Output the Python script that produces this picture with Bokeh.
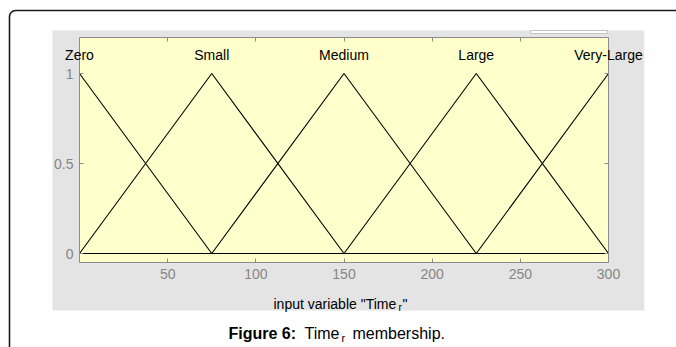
from bokeh.plotting import figure
from bokeh.models import Label, BoxAnnotation, LinearAxis, FixedTicker, Range1d
from bokeh.embed import file_html
from bokeh.resources import INLINE

# ---------------- data ----------------
mf_names = ["Zero", "Small", "Medium", "Large", "Very-Large"]
mf_a = [-75, 0, 75, 150, 225]      # trimf left feet
mf_b = [0, 75, 150, 225, 300]      # trimf peaks
mf_c = [75, 150, 225, 300, 375]    # trimf right feet
x_lo, x_hi = 0, 300
y_lo, y_hi = -0.05, 1.2
x_ticks = [50, 100, 150, 200, 250, 300]
y_ticks = [0, 0.5, 1]
x_label_main = 'input variable "Time'
x_label_sub = "r"
x_label_end = '"'
cap_bold = "Figure 6:"
cap_main = "Time"
cap_sub = "r"
cap_end = "membership."

# ---------------- geometry ----------------
W, H = 676, 347
FL, FR, FT, FB = 79, 608, 37, 262   # axes box edges in pixels


def px2x(sx):
    return x_lo + (sx - FL) * (x_hi - x_lo) / (FR - FL)


def px2y(sy):
    return y_lo + (FB - sy) * (y_hi - y_lo) / (FB - FT)


def trimf(x, a, b, c):
    if x <= a or x >= c:
        return 0.0
    if x <= b:
        return 1.0 if b == a else (x - a) / (b - a)
    return (c - x) / (c - b)


FONT = "Liberation Sans"
GRAY_TXT = "#868686"
AX_GRAY = "#8c8c8c"
PANEL = "#e4e4e4"
YELLOW = "#ffffcc"

p = figure(width=W, height=H, title=None,
           x_range=Range1d(px2x(0), px2x(W)), y_range=Range1d(px2y(H), px2y(0)),
           output_backend="svg", toolbar_location=None, min_border=0,
           x_axis_location=None, y_axis_location=None)
p.xgrid.visible = False
p.ygrid.visible = False
p.background_fill_color = "white"
p.border_fill_color = "white"
p.outline_line_color = None


def make_axis(ticks, loc, bounds, labels=True):
    ax = LinearAxis(ticker=FixedTicker(ticks=ticks), fixed_location=loc, bounds=bounds)
    ax.major_tick_in = 4
    ax.major_tick_out = 0
    ax.minor_tick_line_color = None
    ax.axis_line_color = AX_GRAY
    ax.major_tick_line_color = AX_GRAY
    ax.major_label_text_font = FONT
    ax.major_label_text_font_size = "14px"
    ax.major_label_text_color = GRAY_TXT
    ax.major_label_standoff = 6
    if not labels:
        ax.major_label_overrides = {t: "" for t in ticks}
    return ax


# ---------------- background panels ----------------
p.add_layout(BoxAnnotation(left=px2x(9), right=px2x(W + 40), top=px2y(10), bottom=px2y(H + 40),
                           fill_color=None, line_color="#1a1a1a", line_alpha=1,
                           line_width=1.6, border_radius=6, level="underlay"))
p.add_layout(BoxAnnotation(left=px2x(52), right=px2x(644), top=px2y(30), bottom=px2y(310),
                           fill_color=PANEL, fill_alpha=1, line_color=None,
                           level="underlay"))
p.add_layout(BoxAnnotation(left=x_lo, right=x_hi, top=y_hi, bottom=y_lo,
                           fill_color=YELLOW, fill_alpha=1, line_color=None,
                           level="underlay"))
p.add_layout(BoxAnnotation(left=px2x(530), right=px2x(607), top=px2y(30), bottom=px2y(33),
                           fill_color="white", fill_alpha=1, line_color="#c4c4c4",
                           line_alpha=1, line_width=1, level="underlay"))

# ---------------- axes ----------------
p.add_layout(make_axis(x_ticks, y_lo, (x_lo, x_hi)), "below")
p.add_layout(make_axis(x_ticks, y_hi, (x_lo, x_hi), labels=False), "above")
p.add_layout(make_axis(y_ticks, x_lo, (y_lo, y_hi)), "left")
p.add_layout(make_axis(y_ticks, x_hi, (y_lo, y_hi), labels=False), "right")

# ---------------- membership functions ----------------
for name, a, b, c in zip(mf_names, mf_a, mf_b, mf_c):
    xs = sorted(set([x_lo, x_hi] + [v for v in (a, b, c) if x_lo <= v <= x_hi]))
    ys = [trimf(v, a, b, c) for v in xs]
    p.line(xs, ys, line_color="black", line_width=1.1)
    p.add_layout(Label(x=b, y=px2y(54), text=name, text_align="center",
                       text_baseline="middle", text_font=FONT,
                       text_font_size="14px", text_color="black"))

# clip the overflow of the last name at the panel edge
p.add_layout(BoxAnnotation(left=px2x(644), right=px2x(W + 10), top=px2y(30), bottom=px2y(310),
                           fill_color="white", fill_alpha=1, line_color=None,
                           level="overlay"))

# ---------------- x label ----------------
p.add_layout(Label(x=px2x(273), y=px2y(303), text=x_label_main, text_align="left",
                   text_baseline="alphabetic", text_font=FONT, text_font_size="14px",
                   text_color="black"))
p.add_layout(Label(x=px2x(398), y=px2y(307), text=x_label_sub, text_align="left",
                   text_baseline="alphabetic", text_font=FONT, text_font_size="10px",
                   text_color="black"))
p.add_layout(Label(x=px2x(402), y=px2y(303), text=x_label_end, text_align="left",
                   text_baseline="alphabetic", text_font=FONT, text_font_size="14px",
                   text_color="black"))

# ---------------- caption ----------------
p.add_layout(Label(x=px2x(228), y=px2y(333), text=cap_bold, text_align="left",
                   text_baseline="alphabetic", text_font=FONT, text_font_size="16px",
                   text_font_style="bold", text_color="black"))
p.add_layout(Label(x=px2x(304), y=px2y(333), text=cap_main, text_align="left",
                   text_baseline="alphabetic", text_font=FONT, text_font_size="16px",
                   text_color="black"))
p.add_layout(Label(x=px2x(341), y=px2y(337), text=cap_sub, text_align="left",
                   text_baseline="alphabetic", text_font=FONT, text_font_size="11px",
                   text_color="black"))
p.add_layout(Label(x=px2x(352), y=px2y(333), text=cap_end, text_align="left",
                   text_baseline="alphabetic", text_font=FONT, text_font_size="16px",
                   text_color="black"))

open("out.html", "w").write(file_html(p, INLINE))
